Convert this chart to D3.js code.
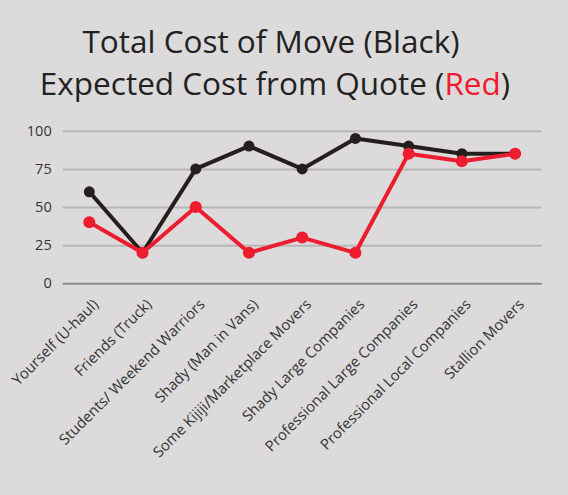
<!DOCTYPE html>
<html>
<head>
<meta charset="utf-8">
<script src="https://cdn.jsdelivr.net/npm/d3@7"></script>
<style>
  html, body { margin: 0; padding: 0; background: #dcdadb; }
  svg { display: block; }
  text { font-family: "Open Sans", sans-serif; }
</style>
</head>
<body>
<svg id="chart" width="568" height="495"></svg>
<script>
const categories = [
  "Yourself (U-haul)",
  "Friends (Truck)",
  "Students/ Weekend Warriors",
  "Shady (Man in Vans)",
  "Some Kijiji/Marketplace Movers",
  "Shady Large Companies",
  "Professional Large Companies",
  "Professional Local Companies",
  "Stallion Movers"
];
const totalCost = [60, 20, 75, 90, 75, 95, 90, 85, 85];
const quoteCost = [40, 20, 50, 20, 30, 20, 85, 80, 85];
const yTicks = [0, 25, 50, 75, 100];

(function () {
const svg = d3.select("#chart");
const W = 568, H = 495;
svg.append("rect").attr("width", W).attr("height", H).attr("fill", "#dcdadb");

const mLeft = 62.7, mRight = 541.7, mTop = 130.8, mBottom = 283.3;

const x = d3.scaleBand().domain(categories).range([mLeft, mRight]).padding(0);
const y = d3.scaleLinear().domain([0, 100]).range([mBottom, mTop]);
const cx = d => x(d) + x.bandwidth() / 2;

// Title
svg.append("text").attr("text-anchor", "middle").attr("font-size", 31.5).attr("fill", "#222")
  .attr("x", 271).attr("y", 53.3).text("Total Cost of Move (Black)");
const t2 = svg.append("text").attr("text-anchor", "middle").attr("font-size", 31.5).attr("fill", "#222")
  .attr("x", 275).attr("y", 95);
t2.append("tspan").text("Expected Cost from Quote (");
t2.append("tspan").attr("fill", "#ed1c2e").text("Red");
t2.append("tspan").text(")");

// Grid
const yAxis = d3.axisLeft(y).tickValues(yTicks).tickSize(-(mRight - mLeft)).tickPadding(11);
const gy = svg.append("g").attr("transform", `translate(${mLeft},0)`).call(yAxis);
gy.select(".domain").remove();
gy.selectAll(".tick line").attr("stroke", d => d === 0 ? "#8e8c8d" : "#b8b6b7").attr("stroke-width", 2);
gy.selectAll(".tick text").attr("font-size", 14.5).attr("fill", "#333").attr("font-family", "Open Sans, sans-serif");

// X labels
const xAxis = d3.axisBottom(x).tickSize(0).tickPadding(0);
const gx = svg.append("g").attr("transform", `translate(0,${mBottom})`).call(xAxis);
gx.select(".domain").remove();
gx.selectAll(".tick text")
  .attr("font-size", 14.8)
  .attr("fill", "#333")
  .attr("font-family", "Open Sans, sans-serif")
  .attr("text-anchor", "end")
  .attr("dy", null)
  .attr("y", 0)
  .attr("transform", "translate(10,22) rotate(-45)");

// Lines
const line = d3.line().x(d => cx(d.c)).y(d => y(d.v));
const blackData = categories.map((c, i) => ({ c, v: totalCost[i] }));
const redData = categories.map((c, i) => ({ c, v: quoteCost[i] }));

svg.append("path").datum(blackData).attr("d", line)
  .attr("fill", "none").attr("stroke", "#231f1c").attr("stroke-width", 4).attr("stroke-linejoin", "round");
svg.selectAll("circle.b").data(blackData).join("circle").attr("class", "b")
  .attr("cx", d => cx(d.c)).attr("cy", d => y(d.v)).attr("r", 5.5).attr("fill", "#231f1c");

svg.append("path").datum(redData).attr("d", line)
  .attr("fill", "none").attr("stroke", "#ed1c2e").attr("stroke-width", 4).attr("stroke-linejoin", "round");
svg.selectAll("circle.r").data(redData).join("circle").attr("class", "r")
  .attr("cx", d => cx(d.c)).attr("cy", d => y(d.v)).attr("r", 6).attr("fill", "#ed1c2e");
})();
</script>
</body>
</html>
